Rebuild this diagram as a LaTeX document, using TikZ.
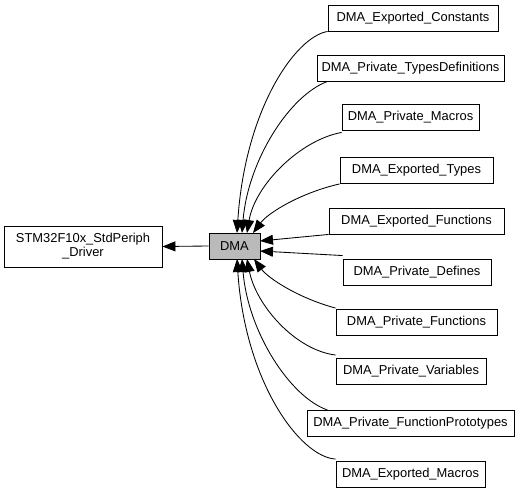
\documentclass[tikz,border=0pt]{standalone}
\usepackage{fontspec}
\setmainfont{Liberation Sans}
\usetikzlibrary{arrows.meta}
\tikzset{
  box/.style={draw=black, fill=white, line width=0.9pt, minimum height=26pt, inner sep=0pt,
    font=\fontsize{12.9}{14}\selectfont, anchor=center},
  cur/.style={fill=black!27},
  edge/.style={draw=black, line width=0.85pt, -{Triangle[length=13pt,width=10pt]}},
}
\begin{document}
\begin{tikzpicture}[x=1pt,y=-1pt]
\useasboundingbox (0,0) rectangle (531,493);
\node[box, minimum width=158pt, minimum height=41pt, align=center] (stm) at (83,246.5) {STM32F10x\_StdPeriph\\\_Driver};
\node[box, cur, minimum width=51pt] (dma) at (234.5,246) {DMA};
\node[box, minimum width=170pt] (c1) at (413,18) {DMA\_Exported\_Constants};
\node[box, minimum width=187pt] (c2) at (410.5,68) {DMA\_Private\_TypesDefinitions};
\node[box, minimum width=137pt] (c3) at (410.5,117) {DMA\_Private\_Macros};
\node[box, minimum width=153pt] (c4) at (416.5,170.5) {DMA\_Exported\_Types};
\node[box, minimum width=175pt] (c5) at (416.5,221) {DMA\_Exported\_Functions};
\node[box, minimum width=148pt] (c6) at (417,272) {DMA\_Private\_Defines};
\node[box, minimum width=161pt] (c7) at (416.5,322.5) {DMA\_Private\_Functions};
\node[box, minimum width=150pt] (c8) at (411,371.5) {DMA\_Private\_Variables};
\node[box, minimum width=207pt] (c9) at (410.5,423.5) {DMA\_Private\_FunctionPrototypes};
\node[box, minimum width=149pt] (c10) at (410.5,474.5) {DMA\_Exported\_Macros};

\coordinate (t1) at (237,233); \coordinate (t2) at (242,233);
\coordinate (t3) at (247,233); \coordinate (t4) at (253,233);
\coordinate (b1) at (237,259); \coordinate (b2) at (242,259);
\coordinate (b3) at (247,259); \coordinate (b4) at (254,259);
\coordinate (r1) at (260,241); \coordinate (r2) at (260,251);

\draw[edge] (dma.west) -- (stm.east);
\draw[edge] (c1.south west) .. controls (295,37) and (245,110) .. (t1);
\draw[edge] ([xshift=11pt]c2.south west) .. controls (290,95) and (248,160) .. (t2);
\draw[edge] ([yshift=-2pt]c3.south west) .. controls (300,140) and (255,185) .. (t3);
\draw[edge] (c4.south west) .. controls (300,193) and (268,213) .. (t4);
\draw[edge] (c5.south west) -- (r1);
\draw[edge] ([yshift=3pt]c6.north west) -- (r2);
\draw[edge] ([yshift=1pt]c7.north west) .. controls (298,298) and (268,278) .. (b4);
\draw[edge] ([yshift=3pt]c8.north west) .. controls (295,350) and (256,305) .. (b3);
\draw[edge] ([xshift=21pt]c9.north west) .. controls (290,397) and (248,332) .. (b2);
\draw[edge] ([yshift=2pt]c10.north west) .. controls (300,457) and (245,382) .. (b1);
\end{tikzpicture}
\end{document}
